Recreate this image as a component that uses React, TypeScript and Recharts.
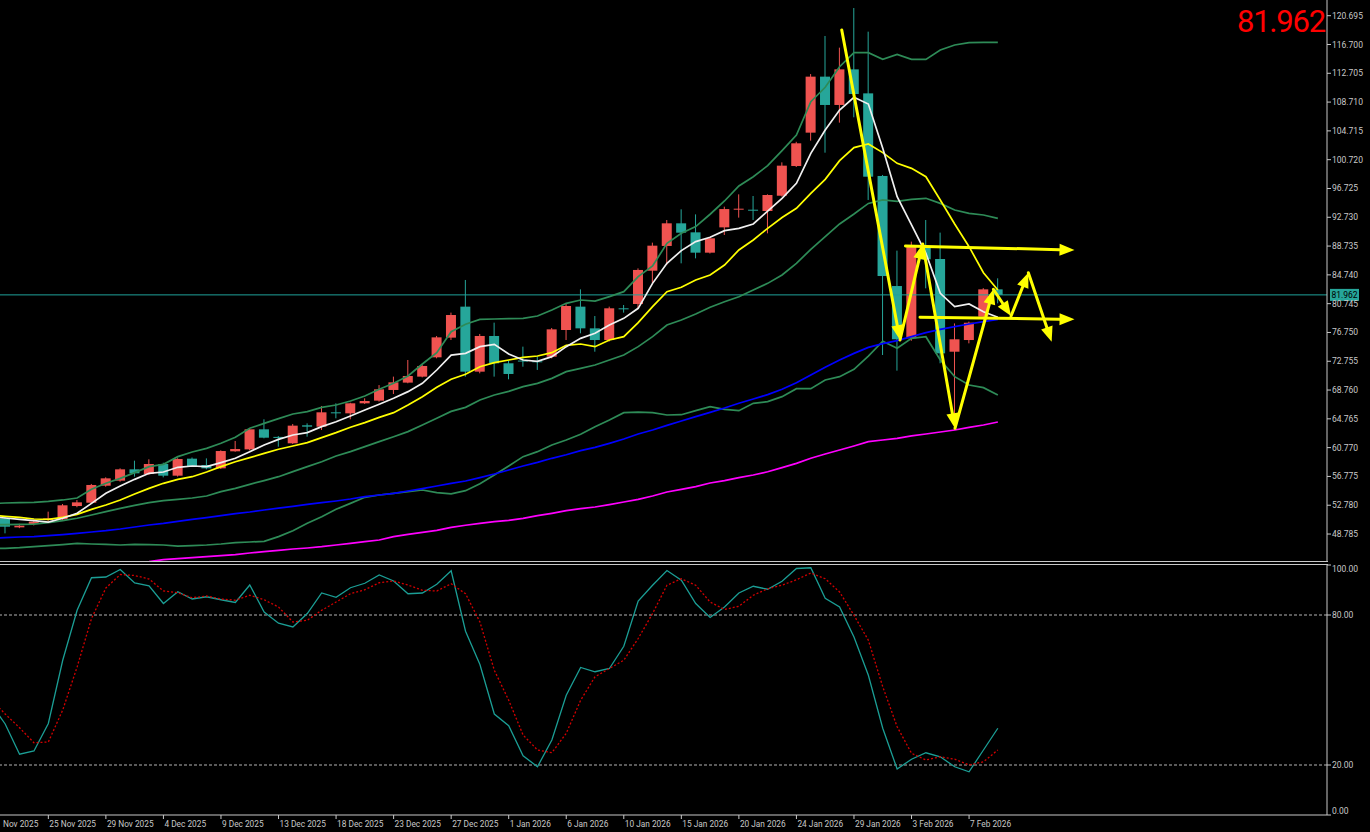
import { ComposedChart, Bar, Line, XAxis, YAxis, ReferenceLine } from "recharts";

// candles, one per trading bar (index 0 = 20 Nov 2025, last = 10 Feb 2026)
const OPEN = [
  51.4, 50.96, 49.71, 50.17, 50.73, 50.82, 52.67, 53.13, 55.49, 56.19,
  57.76, 57.11, 58.5, 56.88, 59.24, 58.36, 57.9, 60.26, 60.53, 63.31,
  62.26, 61.37, 63.87, 63.68, 65.67, 65.53, 66.92, 67.29, 68.77, 69.79,
  70.62, 73.3, 76.03, 80.33, 71.31, 76.26, 72.47, 72.85, 72.75, 73.39,
  77.09, 80.33, 77.32, 75.7, 80.1, 80.7, 85.32, 88.75, 91.89, 90.64,
  87.82, 91.33, 93.8, 93.78, 93.6, 95.72, 99.84, 104.47, 112.24, 108.31,
  113.25, 109.92, 98.46, 83.19, 75.94, 88.65, 86.94, 74.08, 75.7, 78.94, 82.73,
];
const HIGH = [
  51.6, 51.29, 50.2, 50.73, 51.89, 52.95, 53.5, 55.73, 56.65, 57.9,
  58.96, 59.15, 58.68, 59.3, 59.4, 59.28, 60.4, 61.69, 63.4, 64.7,
  62.38, 64.05, 64.14, 66.55, 66.92, 67.0, 67.61, 69.45, 70.62, 72.93,
  72.24, 76.26, 79.5, 84.03, 76.54, 78.11, 72.84, 74.78, 73.4, 77.37,
  80.7, 82.73, 79.03, 80.33, 80.56, 85.64, 89.21, 92.35, 93.83, 93.13,
  89.95, 94.2, 95.91, 95.68, 95.91, 100.35, 103.2, 112.6, 117.88, 116.26,
  121.76, 118.48, 98.6, 88.1, 89.35, 92.35, 90.6, 78.0, 78.25, 82.9, 84.26,
];
const LOW = [
  50.7, 48.88, 49.6, 49.98, 50.6, 50.7, 52.5, 53.0, 55.35, 56.05,
  56.74, 56.97, 56.65, 56.75, 58.1, 57.76, 57.8, 60.2, 60.4, 62.06,
  60.9, 61.28, 62.29, 63.22, 64.84, 64.7, 66.83, 67.15, 68.21, 69.7,
  70.52, 73.16, 75.7, 70.62, 71.08, 70.62, 70.25, 72.0, 71.55, 73.16,
  75.7, 76.63, 74.08, 75.5, 79.5, 80.1, 83.56, 86.11, 86.34, 87.03,
  87.7, 90.27, 92.68, 92.35, 90.5, 95.6, 99.7, 103.36, 101.69, 105.86,
  106.6, 95.13, 73.62, 71.45, 75.6, 82.87, 72.47, 63.3, 75.24, 78.7, 80.79,
];
const CLOSE = [
  51.0, 49.8, 49.94, 50.5, 50.95, 52.77, 53.18, 55.59, 56.51, 57.76,
  57.21, 58.5, 56.88, 59.19, 58.22, 57.9, 60.3, 60.58, 63.31, 62.15,
  62.12, 63.82, 63.68, 65.67, 65.53, 66.92, 67.24, 68.86, 69.83, 70.71,
  72.1, 76.07, 79.17, 71.31, 76.26, 72.47, 70.99, 72.75, 72.65, 77.18,
  80.42, 77.32, 75.7, 80.1, 80.0, 85.42, 88.79, 91.89, 90.59, 87.82,
  89.81, 93.87, 93.92, 93.7, 95.82, 99.89, 102.99, 112.24, 108.31, 113.25,
  109.83, 98.36, 84.58, 75.8, 88.65, 86.9, 73.85, 75.8, 78.1, 82.73, 81.962,
];

// moving averages and bands
const MA_WHITE = [
  51.19, 51.01, 50.82, 50.64, 50.45, 50.97, 51.66, 53.04, 54.43, 55.45,
  56.37, 57.21, 57.39, 58.04, 58.22, 58.13, 58.69, 59.29, 60.21, 61.14,
  61.92, 62.52, 62.85, 63.68, 64.37, 65.16, 65.99, 66.78, 67.61, 68.54,
  69.69, 71.54, 73.6, 73.85, 74.78, 75.1, 73.76, 72.93, 72.74, 73.39,
  74.78, 75.93, 76.63, 77.78, 78.71, 80.1, 83.56, 86.34, 88.1, 89.35,
  89.95, 90.87, 91.2, 91.8, 93.58, 95.36, 97.44, 101.6, 104.84, 107.61,
  109.37, 108.44, 102.3, 95.59, 91.66, 87.73, 82.18, 80.33, 80.7, 79.63, 78.85,
];
const MA_YELLOW = [
  51.38, 51.24, 51.1, 50.87, 50.82, 51.1, 51.52, 52.21, 52.81, 53.51,
  54.34, 55.12, 55.82, 56.37, 56.74, 57.39, 58.13, 58.82, 59.38, 59.98,
  60.54, 61.0, 61.46, 62.16, 62.85, 63.59, 64.24, 64.97, 65.62, 66.69,
  67.84, 69.14, 70.27, 70.94, 72.0, 72.56, 72.93, 73.3, 73.48, 73.95,
  74.96, 75.15, 74.78, 75.7, 76.17, 78.11, 80.33, 82.41, 83.01, 84.03,
  84.72, 86.11, 88.19, 89.58, 91.2, 92.7, 93.97, 96.05, 97.99, 100.58,
  102.39, 102.9, 101.7, 100.21, 99.52, 98.36, 95.12, 91.8, 88.65, 85.04, 82.64,
];
const BB_UPPER = [
  53.0, 53.09, 53.14, 53.18, 53.32, 53.51, 53.78, 54.99, 55.82, 56.51,
  57.3, 58.13, 58.45, 59.52, 60.17, 60.67, 61.37, 62.2, 63.45, 64.14,
  64.79, 65.44, 65.76, 66.36, 66.69, 67.24, 67.93, 68.86, 69.69, 70.71,
  72.37, 73.95, 76.85, 77.88, 78.57, 78.62, 78.66, 78.71, 79.03, 79.87,
  80.79, 81.25, 81.11, 81.72, 82.41, 84.49, 85.97, 89.11, 90.5, 91.43,
  93.15, 94.99, 97.07, 98.36, 99.89, 101.97, 104.14, 108.77, 110.76, 113.62,
  115.57, 115.57, 114.64, 115.33, 114.64, 114.64, 115.93, 116.63, 116.95, 117.0, 117.0,
];
const BB_MIDDLE = [
  50.08, 50.08, 50.13, 50.17, 50.36, 50.64, 50.97, 51.43, 51.89, 52.35,
  52.77, 53.14, 53.42, 53.6, 53.78, 54.06, 54.66, 55.12, 55.68, 56.19,
  56.74, 57.44, 58.13, 58.82, 59.61, 60.21, 60.91, 61.6, 62.29, 62.99,
  63.91, 64.84, 65.8, 66.36, 67.38, 68.07, 68.58, 69.23, 69.69, 70.38,
  71.31, 71.77, 72.24, 72.93, 73.62, 74.78, 76.17, 77.78, 78.48, 79.31,
  80.24, 81.02, 81.71, 82.64, 83.56, 84.72, 86.34, 88.28, 90.04, 91.8,
  93.18, 94.65, 95.13, 94.94, 95.22, 95.36, 94.66, 93.74, 93.28, 93.05, 92.58,
];
const BB_LOWER = [
  46.75, 46.8, 46.89, 47.03, 47.17, 47.31, 47.49, 47.4, 47.35, 47.26,
  47.35, 47.31, 47.26, 47.12, 47.17, 47.26, 47.4, 47.59, 47.68, 47.77,
  48.42, 49.25, 50.27, 51.19, 52.21, 53.04, 53.88, 54.2, 54.43, 54.66,
  54.89, 54.52, 54.36, 54.8, 55.77, 56.97, 58.22, 59.52, 60.21, 61.14,
  61.83, 62.62, 63.68, 64.6, 65.62, 65.71, 65.62, 65.3, 65.34, 65.9,
  66.45, 66.08, 65.9, 66.92, 67.15, 67.84, 68.95, 68.95, 70.15, 70.62,
  71.63, 73.48, 75.54, 74.55, 75.93, 76.16, 72.93, 70.62, 69.46, 69.09, 68.07,
];
const MA_BLUE = [
  48.23, 48.28, 48.37, 48.42, 48.56, 48.7, 48.88, 49.07, 49.25, 49.48,
  49.76, 50.04, 50.27, 50.55, 50.82, 51.06, 51.33, 51.61, 51.84, 52.12,
  52.39, 52.63, 52.9, 53.14, 53.37, 53.64, 53.97, 54.2, 54.43, 54.75,
  55.08, 55.45, 55.82, 56.14, 56.61, 57.11, 57.67, 58.22, 58.73, 59.29,
  59.79, 60.35, 60.81, 61.37, 61.97, 62.66, 63.22, 63.86, 64.46, 65.07,
  65.67, 66.27, 66.92, 67.52, 68.12, 68.86, 69.78, 70.85, 71.91, 72.93,
  73.85, 74.68, 75.2, 75.61, 76.17, 76.72, 77.18, 77.55, 77.92, 78.25, 78.55,
];
const MA_MAGENTA = [
  null, null, null, null, null, null, null, null, null, null,
  44.72, 44.95, 45.23, 45.37, 45.51, 45.64, 45.78, 45.92, 46.15, 46.34,
  46.52, 46.71, 46.85, 47.03, 47.26, 47.49, 47.72, 47.96, 48.42, 48.74,
  49.02, 49.3, 49.7, 50.0, 50.27, 50.5, 50.69, 50.96, 51.33, 51.66,
  52.03, 52.3, 52.53, 52.86, 53.23, 53.6, 54.06, 54.62, 54.98, 55.36,
  55.86, 56.19, 56.6, 56.97, 57.43, 57.99, 58.59, 59.29, 59.89, 60.44,
  61.0, 61.6, 61.83, 62.06, 62.39, 62.66, 62.94, 63.22, 63.59, 63.91, 64.33,
];

// stochastic oscillator
const STOCH_K = [
  44.6, 36.4, 24.3, 25.6, 36.6, 61.9, 81.9, 94.9, 95.2, 98.2,
  92.8, 91.7, 84.6, 89.3, 86.4, 87.3, 86.1, 85.0, 92.0, 81.2,
  76.7, 75.2, 80.6, 88.8, 87.1, 90.9, 92.7, 96.0, 93.6, 88.5,
  88.8, 92.3, 97.7, 73.5, 60.2, 40.4, 35.7, 23.7, 19.3, 30.0,
  47.9, 59.0, 57.3, 58.6, 67.5, 85.6, 91.9, 97.8, 93.9, 84.6,
  79.0, 83.2, 88.8, 91.5, 90.3, 93.5, 98.6, 98.9, 86.7, 83.2,
  71.2, 55.9, 34.7, 18.4, 22.3, 24.9, 23.3, 19.3, 17.3, 26.0, 34.7,
];
const STOCH_D = [
  46.4, 40.4, 34.9, 28.9, 29.2, 42.0, 59.2, 78.6, 90.8, 96.2,
  95.8, 94.4, 89.6, 88.9, 86.9, 87.6, 86.4, 85.9, 87.9, 86.1,
  83.2, 77.2, 77.9, 81.9, 85.2, 88.5, 90.1, 92.9, 93.6, 92.0,
  89.9, 89.6, 92.5, 88.5, 77.2, 57.9, 45.9, 32.0, 26.0, 24.9,
  32.7, 45.9, 55.3, 58.6, 61.9, 70.6, 80.6, 91.9, 94.5, 91.9,
  85.2, 82.2, 83.5, 87.9, 90.5, 91.9, 94.1, 96.8, 94.5, 89.2,
  79.9, 69.9, 51.3, 35.3, 24.7, 22.0, 23.3, 22.3, 20.0, 21.3, 26.0,
];

const TICK_INDEX = [0, 4, 8, 12, 16, 20, 24, 28, 32, 36, 40, 44, 48, 52, 56, 60, 64, 68];
const TICK_LABELS = [
  "20 Nov 2025", "25 Nov 2025", "29 Nov 2025", "4 Dec 2025", "9 Dec 2025", "13 Dec 2025",
  "18 Dec 2025", "23 Dec 2025", "27 Dec 2025", "1 Jan 2026", "6 Jan 2026", "10 Jan 2026",
  "15 Jan 2026", "20 Jan 2026", "24 Jan 2026", "29 Jan 2026", "3 Feb 2026", "7 Feb 2026",
];
const PRICE_TICKS = [
  48.785, 52.78, 56.775, 60.77, 64.765, 68.76, 72.755, 76.75, 80.745, 84.74,
  88.735, 92.73, 96.725, 100.72, 104.715, 108.71, 112.705, 116.7, 120.695,
];
const STOCH_TICKS = [0, 20, 80, 100];
const LAST_PRICE = 81.962;

// hand-drawn arrows: [fromBar, fromPrice, toBar, toPrice]
const ARROWS = [
  [59.15, 118.71, 63.2, 75.7],
  [63.2, 75.7, 64.78, 89.02],
  [64.78, 89.02, 67.02, 63.45],
  [67.02, 63.45, 69.69, 82.74],
  [69.69, 82.74, 70.92, 79.03],
  [70.92, 79.03, 72.12, 85.04],
  [72.12, 85.04, 73.74, 75.47],
  [63.58, 88.74, 75.33, 88.19],
  [64.59, 78.85, 75.33, 78.57],
];

const X_DOMAIN = [0.64, 92.88];
const UP = "#ef5350";
const DOWN = "#26a69a";
const AXIS = "#c8c8c8";
const FONT = "Roboto, sans-serif";

const rows = OPEN.map((open, i) => ({
  i,
  open,
  high: HIGH[i],
  low: LOW[i],
  close: CLOSE[i],
  range: [LOW[i], HIGH[i]],
  white: MA_WHITE[i],
  yellow: MA_YELLOW[i],
  bbUp: BB_UPPER[i],
  bbMid: BB_MIDDLE[i],
  bbLow: BB_LOWER[i],
  blue: MA_BLUE[i],
  magenta: MA_MAGENTA[i],
}));
const stochRows = STOCH_K.map((k, i) => ({ i, k, d: STOCH_D[i] }));

function Candle(props: any) {
  const { x, y, width, height, payload } = props;
  if (!payload || height == null) return null;
  const { open, close, high, low } = payload;
  const color = close >= open ? UP : DOWN;
  const k = high === low ? 0 : height / (high - low);
  const top = y + (high - Math.max(open, close)) * k;
  const bot = y + (high - Math.min(open, close)) * k;
  const cx = x + width / 2;
  return (
    <g>
      <line x1={cx} x2={cx} y1={y} y2={y + height} stroke={color} strokeWidth={1} />
      <rect x={x} y={top} width={width} height={Math.max(1, bot - top)} fill={color} />
    </g>
  );
}

function Arrow(props: any) {
  const { x1, y1, x2, y2 } = props;
  const dx = x2 - x1;
  const dy = y2 - y1;
  const len = Math.hypot(dx, dy) || 1;
  const ux = dx / len;
  const uy = dy / len;
  const hl = 15;
  const hw = 6;
  const bx = x2 - ux * hl;
  const by = y2 - uy * hl;
  const pts = `${x2},${y2} ${bx - uy * hw},${by + ux * hw} ${bx + uy * hw},${by - ux * hw}`;
  return (
    <g>
      <line x1={x1} y1={y1} x2={bx} y2={by} stroke="#ffff00" strokeWidth={3} strokeLinecap="round" />
      <polygon points={pts} fill="#ffff00" />
    </g>
  );
}

function PriceTag(props: any) {
  const vb = props.viewBox || {};
  const x = (vb.x || 0) + (vb.width || 0) + 3;
  const y = vb.y || 0;
  return (
    <g>
      <rect x={x} y={y - 6} width={29} height={12} fill={DOWN} />
      <text x={x + 1.5} y={y + 3.2} fontSize={8.5} fontFamily={FONT} fill="#000">
        {LAST_PRICE.toFixed(3)}
      </text>
    </g>
  );
}

function DateTick(props: any) {
  const { x, y, payload } = props;
  let label = TICK_LABELS[TICK_INDEX.indexOf(payload.value)] || "";
  let tx = x + 1;
  // the first date sits left of the plot: only its month and year show
  if (tx < 0) {
    label = label.split(" ").slice(1).join(" ");
    tx = 3;
  }
  return (
    <text x={tx} y={y + 8} fontSize={8.3} fontFamily={FONT} fill={AXIS} textAnchor="start">
      {label}
    </text>
  );
}

function StochTick(props: any) {
  const { x, y, payload } = props;
  const v = payload.value;
  const shift = v === 100 ? 4 : v === 0 ? -4 : 0;
  return (
    <text x={x} y={y + shift} dy="0.355em" fontSize={8.5} fontFamily={FONT} fill={AXIS} textAnchor="start">
      {v.toFixed(2)}
    </text>
  );
}

export default function App() {
  const line = (key: string, color: string, w = 1.7) => (
    <Line
      key={key}
      dataKey={key}
      type="linear"
      stroke={color}
      strokeWidth={w}
      dot={false}
      activeDot={false}
      isAnimationActive={false}
    />
  );
  return (
    <div style={{ position: "fixed", left: 0, top: 0, width: 1370, height: 832, background: "#000", overflow: "hidden" }}>
      <div style={{ position: "absolute", left: 0, top: 0 }}>
        <ComposedChart width={1370} height={562} data={rows} margin={{ top: 0, right: 0, bottom: 0, left: 0 }}>
          <XAxis dataKey="i" type="number" domain={X_DOMAIN} allowDataOverflow hide />
          <YAxis
            orientation="right"
            width={43}
            domain={[44.904, 122.873]}
            allowDataOverflow
            ticks={PRICE_TICKS}
            interval={0}
            tickSize={4}
            tickMargin={1}
            tickFormatter={(v: number) => v.toFixed(3)}
            tick={{ fill: AXIS, fontSize: 8.5, fontFamily: FONT }}
            axisLine={{ stroke: AXIS }}
            tickLine={{ stroke: AXIS }}
          />
          <ReferenceLine y={LAST_PRICE} stroke="#1fa39a" strokeWidth={1} label={<PriceTag />} />
          <Bar dataKey="range" barSize={10} shape={<Candle />} isAnimationActive={false} />
          {line("bbUp", "#2e8b57")}
          {line("bbMid", "#2e8b57")}
          {line("bbLow", "#2e8b57")}
          {line("magenta", "#ff00ff")}
          {line("blue", "#0000ff")}
          {line("yellow", "#ffff00")}
          {line("white", "#f0f0f0")}
          {ARROWS.map((a, n) => (
            <ReferenceLine
              key={n}
              segment={[{ x: a[0], y: a[1] }, { x: a[2], y: a[3] }]}
              shape={<Arrow />}
            />
          ))}
        </ComposedChart>
      </div>
      <div style={{ position: "absolute", left: 0, top: 561, width: 1328, height: 1, background: AXIS }} />
      <div style={{ position: "absolute", left: 0, top: 564, width: 1328, height: 1, background: AXIS }} />
      <div style={{ position: "absolute", left: 0, top: 564 }}>
        <ComposedChart width={1370} height={268} data={stochRows} margin={{ top: 1, right: 0, bottom: 0, left: 0 }}>
          <XAxis
            dataKey="i"
            type="number"
            domain={X_DOMAIN}
            allowDataOverflow
            ticks={TICK_INDEX}
            interval={0}
            height={17}
            tickSize={4}
            tickMargin={0}
            tick={<DateTick />}
            axisLine={{ stroke: AXIS }}
            tickLine={{ stroke: AXIS }}
          />
          <YAxis
            orientation="right"
            width={43}
            domain={[0, 100]}
            ticks={STOCH_TICKS}
            interval={0}
            tickSize={4}
            tickMargin={1}
            tick={<StochTick />}
            axisLine={{ stroke: AXIS }}
            tickLine={{ stroke: AXIS }}
          />
          <ReferenceLine y={80} stroke="#b4b4b4" strokeDasharray="3 2" />
          <ReferenceLine y={20} stroke="#b4b4b4" strokeDasharray="3 2" />
          <Line dataKey="k" type="linear" stroke="#1b9e95" strokeWidth={1.3} dot={false} activeDot={false} isAnimationActive={false} />
          <Line dataKey="d" type="linear" stroke="#d40000" strokeWidth={1.3} strokeDasharray="2 2" dot={false} activeDot={false} isAnimationActive={false} />
        </ComposedChart>
      </div>
      <div
        style={{
          position: "absolute",
          right: 45,
          top: 6,
          color: "#ff0000",
          fontFamily: FONT,
          fontSize: 31,
          lineHeight: "31px",
          letterSpacing: -1.2,
        }}
      >
        {LAST_PRICE.toFixed(3)}
      </div>
    </div>
  );
}
